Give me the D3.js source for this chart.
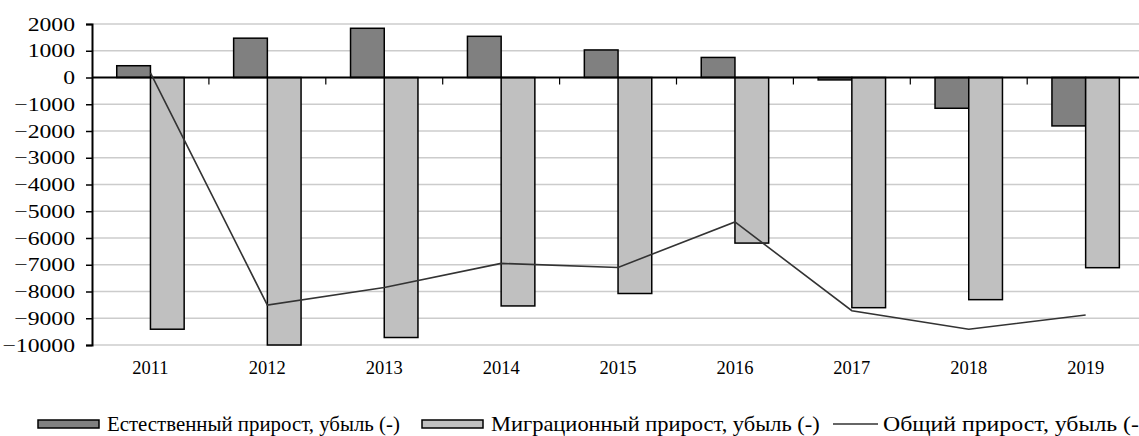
<!DOCTYPE html>
<html><head><meta charset="utf-8">
<script src="https://cdn.jsdelivr.net/npm/d3@7"></script>
<style>html,body{margin:0;padding:0;background:#fff;overflow:hidden}svg{display:block}</style>
</head><body>
<svg id="c" width="1139" height="436"></svg>
<script>
const years = ["2011","2012","2013","2014","2015","2016","2017","2018","2019"];
const natural = [440, 1470, 1840, 1540, 1030, 750, -90, -1150, -1810];
const migration = [-9410, -10000, -9720, -8540, -8075, -6190, -8605, -8305, -7110];
const total = [170, -8510, -7850, -6950, -7100, -5400, -8720, -9410, -8880];
const yTicks = [2000, 1000, 0, -1000, -2000, -3000, -4000, -5000, -6000, -7000, -8000, -9000, -10000];
const seriesNames = ["Естественный прирост, убыль (-)", "Миграционный прирост, убыль (-)", "Общий прирост, убыль (-)"];
const barKeys = ["nat", "mig"];
const barFill = {nat: "#808080", mig: "#c0c0c0"};

const svg = d3.select("#c");
const plotLeft = 92, plotTop = 24, plotBottom = 345, catW = 116.9;
const font = "'Liberation Serif','Times New Roman',serif";

const y = d3.scaleLinear().domain([-10000, 2000]).range([plotBottom, plotTop]);
const x0 = d3.scaleBand().domain(years).range([plotLeft, plotLeft + catW * years.length]);
const x1 = d3.scaleBand().domain(barKeys).range([0, x0.bandwidth()]).paddingInner(0).paddingOuter(0.734);

// gridlines
svg.append("g").selectAll("line").data(yTicks.filter(d => d !== 0)).join("line")
  .attr("x1", plotLeft).attr("x2", 1139)
  .attr("y1", d => y(d)).attr("y2", d => y(d))
  .attr("stroke", "#cccccc").attr("stroke-width", 1.6);

// bars
const rows = years.map((yr, i) => ({yr, nat: natural[i], mig: migration[i]}));
const g = svg.append("g");
rows.forEach(r => {
  barKeys.forEach(k => {
    const v = r[k];
    g.append("rect")
      .attr("x", x0(r.yr) + x1(k))
      .attr("width", x1.bandwidth())
      .attr("y", y(Math.max(0, v)))
      .attr("height", Math.abs(y(v) - y(0)))
      .attr("fill", barFill[k])
      .attr("stroke", "#000").attr("stroke-width", 1.5);
  });
});

// zero axis
svg.append("line").attr("x1", plotLeft).attr("x2", 1139).attr("y1", y(0)).attr("y2", y(0))
  .attr("stroke", "#000").attr("stroke-width", 2);
// category ticks on zero line
svg.append("g").selectAll("line").data(years.slice(1)).join("line")
  .attr("x1", d => x0(d)).attr("x2", d => x0(d))
  .attr("y1", y(0)).attr("y2", y(0) + 7)
  .attr("stroke", "#000").attr("stroke-width", 1.2);

// y axis
const yAxis = svg.append("g").attr("transform", `translate(${plotLeft},0)`)
  .call(d3.axisLeft(y).tickValues(yTicks).tickSize(6).tickFormat(d3.format("d")));
yAxis.attr("font-family", font);
yAxis.select(".domain").attr("stroke", "#000").attr("stroke-width", 2);
yAxis.selectAll(".tick line").attr("stroke", "#000").attr("stroke-width", 1.5);
yAxis.selectAll(".tick text").attr("font-family", font).attr("font-size", 18.5).attr("fill", "#000")
  .attr("x", 0).attr("dy", "0.33em")
  .attr("transform", "translate(-17,0) scale(1.28,1)");

// year labels
svg.append("g").selectAll("text").data(years).join("text")
  .attr("x", d => x0(d) + x0.bandwidth() / 2).attr("y", 374)
  .attr("text-anchor", "middle").attr("font-family", font).attr("font-size", 18.5).attr("fill", "#000")
  .text(d => d);

// total line
const line = d3.line().x((d, i) => x0(years[i]) + x0.bandwidth() / 2).y(d => y(d));
svg.append("path").datum(total).attr("d", line).attr("fill", "none")
  .attr("stroke", "#333").attr("stroke-width", 1.6);

// legend
const lg = svg.append("g");
const legY = 424;
const swatchX = [38, 422, 833];
const textX = [107, 491, 883];
const textW = [293, 329, 264];
lg.append("rect").attr("x", swatchX[0]).attr("y", legY - 4).attr("width", 61).attr("height", 8)
  .attr("fill", barFill.nat).attr("stroke", "#000").attr("stroke-width", 1.5);
lg.append("rect").attr("x", swatchX[1]).attr("y", legY - 4).attr("width", 61).attr("height", 8)
  .attr("fill", barFill.mig).attr("stroke", "#000").attr("stroke-width", 1.5);
lg.append("line").attr("x1", swatchX[2]).attr("x2", swatchX[2] + 45).attr("y1", legY).attr("y2", legY)
  .attr("stroke", "#333").attr("stroke-width", 1.6);
seriesNames.forEach((name, i) => {
  const t = lg.append("text").attr("x", 0).attr("y", 0)
    .attr("font-family", font).attr("font-size", 20).attr("fill", "#000").text(name);
  const s = textW[i] / t.node().getComputedTextLength();
  t.attr("transform", `translate(${textX[i]},${legY + 7}) scale(${s},1)`);
});
</script>
</body></html>
